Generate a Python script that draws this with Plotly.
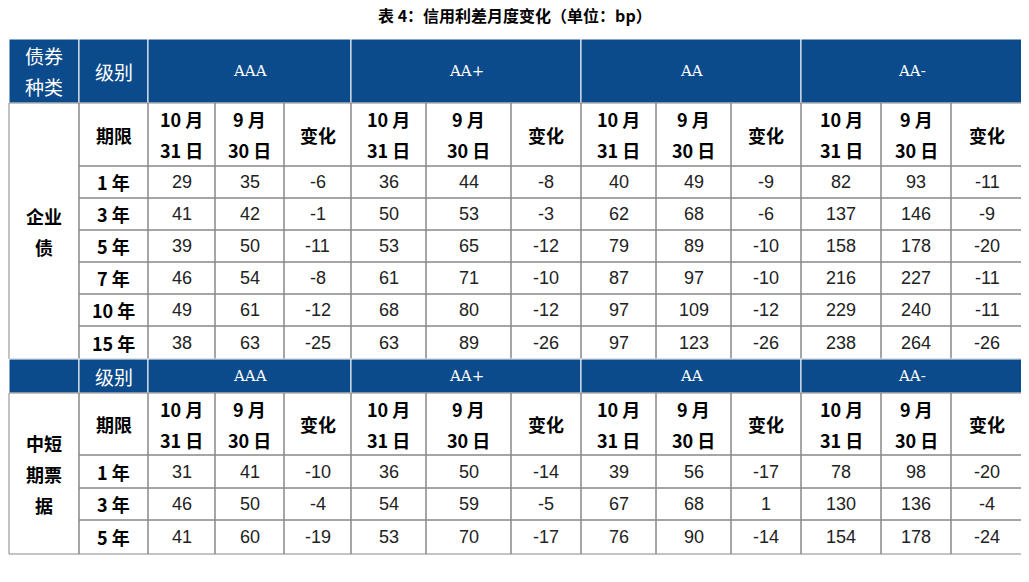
import plotly.graph_objects as go

grades = ["AAA", "AA+", "AA", "AA-"]
sub_cols = ["10 月|31 日", "9 月|30 日", "变化"]
corp_terms = ["1 年", "3 年", "5 年", "7 年", "10 年", "15 年"]
corp_vals = [
    [29, 35, -6, 36, 44, -8, 40, 49, -9, 82, 93, -11],
    [41, 42, -1, 50, 53, -3, 62, 68, -6, 137, 146, -9],
    [39, 50, -11, 53, 65, -12, 79, 89, -10, 158, 178, -20],
    [46, 54, -8, 61, 71, -10, 87, 97, -10, 216, 227, -11],
    [49, 61, -12, 68, 80, -12, 97, 109, -12, 229, 240, -11],
    [38, 63, -25, 63, 89, -26, 97, 123, -26, 238, 264, -26],
]
mtn_terms = ["1 年", "3 年", "5 年"]
mtn_vals = [
    [31, 41, -10, 36, 50, -14, 39, 56, -17, 78, 98, -20],
    [46, 50, -4, 54, 59, -5, 67, 68, 1, 130, 136, -4],
    [41, 60, -19, 53, 70, -17, 76, 90, -14, 154, 178, -24],
]

BLUE = "#0B4A8B"
GRID = "#888888"
CJK = "Noto Sans CJK SC"
LH = 31  # line spacing for multi-line cells
xs = [8, 78, 147, 214, 283, 350, 425, 510, 580, 655, 730, 800, 880, 950, 1022]
shapes, ann = [], []

def cell(x0, x1, y0, y1, text, fill=None, color="black", bold=False, size=17, fam=CJK, line=GRID):
    shapes.append(dict(type="rect", x0=x0, x1=x1, y0=y0, y1=y1, xref="x", yref="y",
                       fillcolor=fill or "rgba(0,0,0,0)", line=dict(color=line, width=1), layer="below"))
    if text == "":
        return
    lines = str(text).split("|")
    yc = (y0 + y1) / 2
    n = len(lines)
    for i, ln in enumerate(lines):
        t = f"<b>{ln}</b>" if bold else ln
        ann.append(dict(x=(x0 + x1) / 2, y=yc + (i - (n - 1) / 2) * LH, xref="x", yref="y", text=t,
                        showarrow=False, font=dict(family=fam, size=size, color=color)))

def section(top, hdr_h, sub_bot, row_bounds, terms, vals, label, first):
    if first:
        cell(xs[0], xs[1], top, top + hdr_h, "债券|种类", BLUE, "white", False, 19, line="white")
    else:
        cell(xs[0], xs[1], top, top + hdr_h, "", BLUE, line="white")
    cell(xs[1], xs[2], top, top + hdr_h, "级别", BLUE, "white", False, 19, line="white")
    for g in range(4):
        cell(xs[2 + 3 * g], xs[5 + 3 * g], top, top + hdr_h, grades[g], BLUE, "white", False, 15,
             fam="DejaVu Serif", line="white")
    hb = top + hdr_h
    cell(xs[0], xs[1], hb, row_bounds[-1], label, None, "black", True, 18)
    cell(xs[1], xs[2], hb, sub_bot, "期限", None, "black", True, 18)
    for c in range(12):
        cell(xs[2 + c], xs[3 + c], hb, sub_bot, sub_cols[c % 3], None, "black", True, 18)
    for r, term in enumerate(terms):
        y0, y1 = row_bounds[r], row_bounds[r + 1]
        cell(xs[1], xs[2], y0, y1, term, None, "black", True, 18)
        for c in range(12):
            cell(xs[2 + c], xs[3 + c], y0, y1, vals[r][c], None, "#222", False, 18, fam="Liberation Sans")

section(38, 64, 165, [165, 197, 229, 261, 293, 325, 358], corp_terms, corp_vals, "企业|债", True)
section(358, 34, 454, [454, 487, 519, 553], mtn_terms, mtn_vals, "中短|期票|据", False)

ann.append(dict(x=514, y=14, xref="x", yref="y", text="<b>表 4：信用利差月度变化（单位：bp）</b>", showarrow=False,
                font=dict(family=CJK, size=16, color="black")))
ann.append(dict(x=6, y=567, xref="x", yref="y", xanchor="left", text="资料来源：wind、中诚信国际研究院整理",
                showarrow=False, font=dict(family="Noto Serif CJK SC, " + CJK, size=15, color="black")))

fig = go.Figure()
fig.update_layout(width=1029, height=582, margin=dict(l=0, r=0, t=0, b=0), plot_bgcolor="white",
                  paper_bgcolor="white", shapes=shapes, annotations=ann,
                  xaxis=dict(range=[7, 1036], visible=False, fixedrange=True),
                  yaxis=dict(range=[589, 7], visible=False, fixedrange=True))
fig.write_html("out.html")
